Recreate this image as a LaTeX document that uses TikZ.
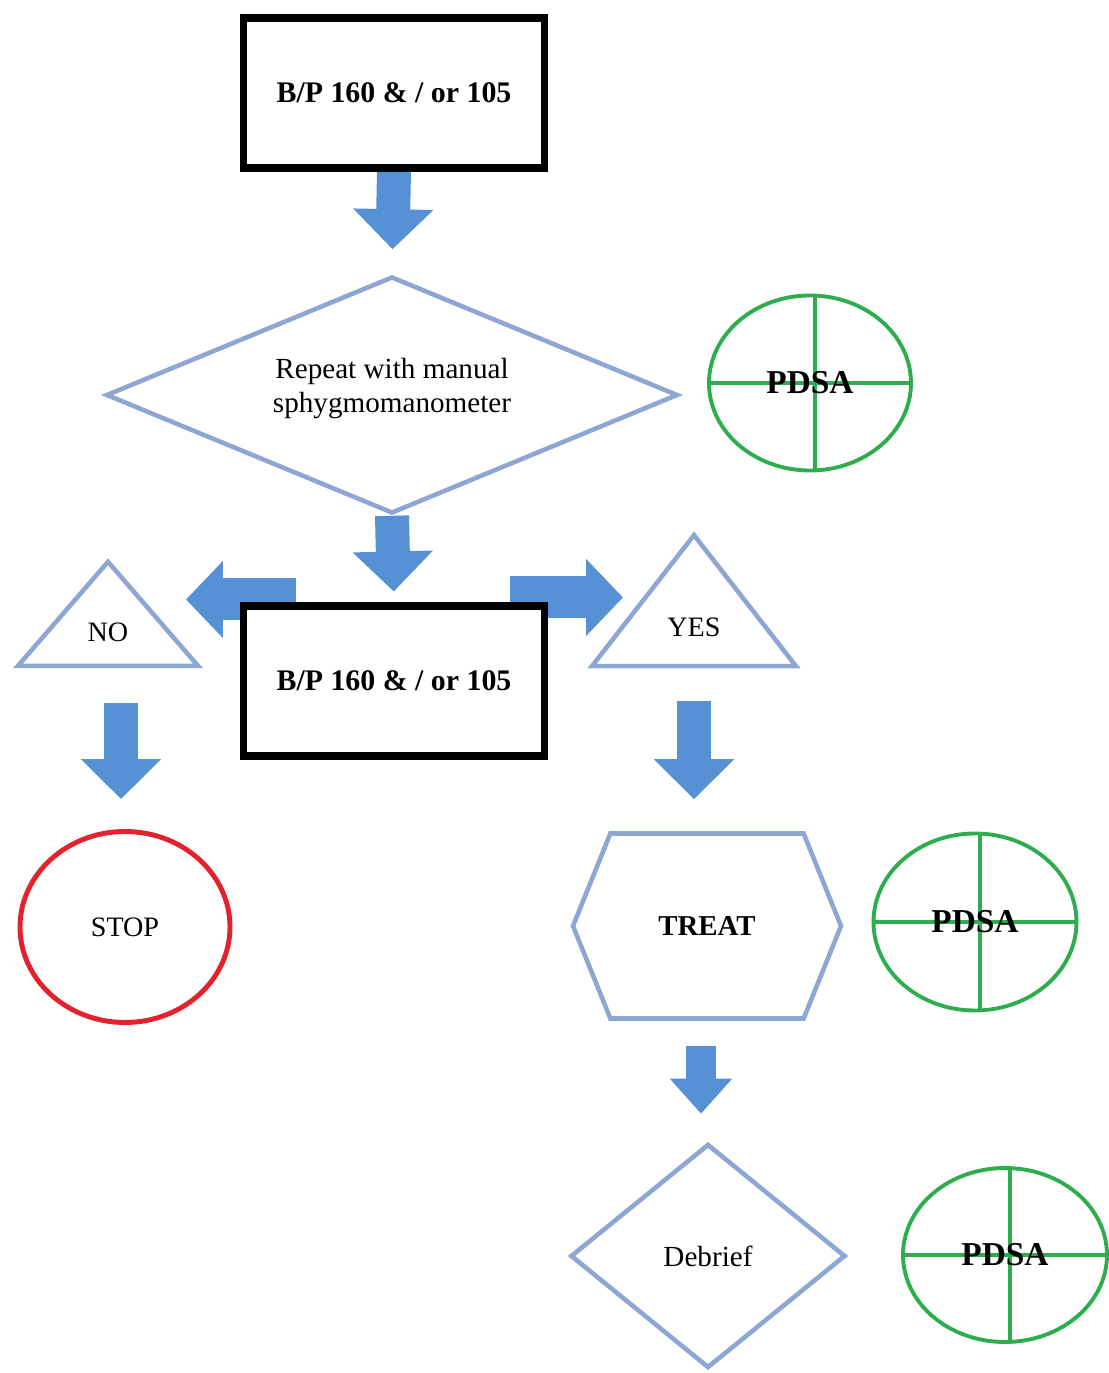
\documentclass[tikz,border=0pt]{standalone}
\usepackage{fontspec}
\setmainfont{Liberation Serif}
\usepackage{tikz}
\usetikzlibrary{
  arrows.meta, shapes.geometric, shapes.symbols,
  backgrounds
}
\definecolor{C_ARR} {HTML}{5591D4}
\definecolor{C_LINE}{HTML}{8EA6D3}
\definecolor{C_PDSA}{HTML}{2EAD4F}
\definecolor{C_STOP}{HTML}{E2222C}
\tikzset{
  %% -- black process box --
  fc/box/.style={
    draw=black, line width=2pt, fill=white,
    minimum width=3.01cm, minimum height=1.50cm,
    align=center, font=\fontsize{8.5}{10}\selectfont\bfseries
  },
  %% -- decision diamond --
  fc/dec/.style={
    diamond, draw=C_LINE, line width=1.3pt, fill=white,
    inner sep=0pt, align=center, font=\fontsize{8.3}{9.6}\selectfont
  },
  %% -- yes / no triangle --
  fc/tri/.style={
    isosceles triangle, isosceles triangle stretches,
    shape border rotate=90, draw=C_LINE, line width=1.3pt,
    fill=white, inner sep=0pt, font=\fontsize{8}{10}\selectfont
  },
  %% -- treatment hexagon --
  fc/hex/.style={
    signal, signal to=east and west, signal pointer angle=136,
    draw=C_LINE, line width=1.3pt, fill=white,
    minimum width=2.68cm, minimum height=1.85cm,
    font=\fontsize{8.2}{10}\selectfont\bfseries
  },
  %% -- stop oval --
  fc/stop/.style={
    ellipse, draw=C_STOP, line width=1.4pt, fill=white,
    minimum width=2.10cm, minimum height=1.91cm,
    font=\fontsize{8}{10}\selectfont
  },
  %% -- PDSA cycle --
  fc/pdsa/.style={
    ellipse, draw=C_PDSA, line width=1.1pt, fill=white,
    inner sep=0pt, font=\fontsize{9.5}{11}\selectfont\bfseries,
    path picture={
      \draw[C_PDSA, line width=1.1pt]
        ([xshift=0.05cm]path picture bounding box.north) --
        ([xshift=0.05cm]path picture bounding box.south)
        (path picture bounding box.west) --
        (path picture bounding box.east);
    }
  },
  %% -- block arrows --
  fc/arr/.style={
    draw=C_ARR, line width=0.34cm,
    -{Triangle[length=0.40cm, width=0.78cm]}
  },
  fc/side/.style={
    draw=C_ARR, line width=0.42cm,
    -{Triangle[length=0.37cm, width=0.75cm]}
  },
}
\begin{document}
\begin{tikzpicture}[x=1cm, y=1cm]
\useasboundingbox (0, 0) rectangle (11.09, 13.73);

%% Nodes
\node[fc/box]  (top)   at (3.94, 12.80) {B/P 160 \& / or 105};
\node[fc/dec, aspect=2.4, minimum width=5.72cm, minimum height=2.37cm]
  (rep) at (3.92, 9.78) {Repeat with manual\\sphygmomanometer\\[-0.14cm]};
\node[fc/pdsa, minimum width=2.02cm, minimum height=1.75cm]
  (pdsa1) at (8.10, 9.90) {PDSA};
\node[fc/box]  (mid)   at (3.94, 6.92) {B/P 160 \& / or 105};
\node[fc/tri, minimum width=1.80cm, minimum height=1.04cm]
  (no)  at (1.08, 7.41) {NO};
\node[fc/tri, minimum width=2.04cm, minimum height=1.31cm]
  (yes) at (6.94, 7.46) {YES};
\node[fc/stop] (stop)  at (1.25, 4.46) {STOP};
\node[fc/hex]  (treat) at (7.07, 4.47) {TREAT};
\node[fc/pdsa, minimum width=2.03cm, minimum height=1.77cm]
  (pdsa2) at (9.75, 4.51) {PDSA};
\node[fc/dec, aspect=1.2, minimum width=2.75cm, minimum height=2.24cm]
  (debrief) at (7.08, 1.17) {Debrief};
\node[fc/pdsa, minimum width=2.04cm, minimum height=1.74cm]
  (pdsa3) at (10.05, 1.18) {PDSA};

%% Block arrows (behind the shapes)
\begin{scope}[on background layer]
\draw[fc/arr, shorten >=0.25cm] (top.south) -- (rep.north);
\draw[fc/arr, shorten >=0.11cm] (rep.south) -- (mid.north);
\draw[fc/side]
  ([xshift=0.56cm, yshift=0.03cm]mid.north west) --
  ([xshift=-0.54cm, yshift=0.03cm]mid.north west);
\draw[fc/side]
  ([xshift=-0.38cm, yshift=0.05cm]mid.north east) --
  ([xshift=0.75cm, yshift=0.05cm]mid.north east);
\end{scope}

%% NO / YES branches
\draw[fc/arr, shorten <=0.35cm, shorten >=0.30cm]
  ([xshift=-0.04cm]stop.north |- no.lower side) -- ([xshift=-0.04cm]stop.north);
\draw[fc/arr, shorten <=0.33cm, shorten >=0.32cm]
  (yes.lower side) -- (yes.lower side |- treat.north);

%% Treat -> Debrief
\draw[fc/arr, line width=0.30cm, -{Triangle[length=0.35cm, width=0.60cm]},
  shorten <=0.25cm, shorten >=0.28cm]
  ([xshift=-0.06cm]treat.south) -- ([xshift=-0.06cm]treat.south |- debrief.north);
\end{tikzpicture}
\end{document}
